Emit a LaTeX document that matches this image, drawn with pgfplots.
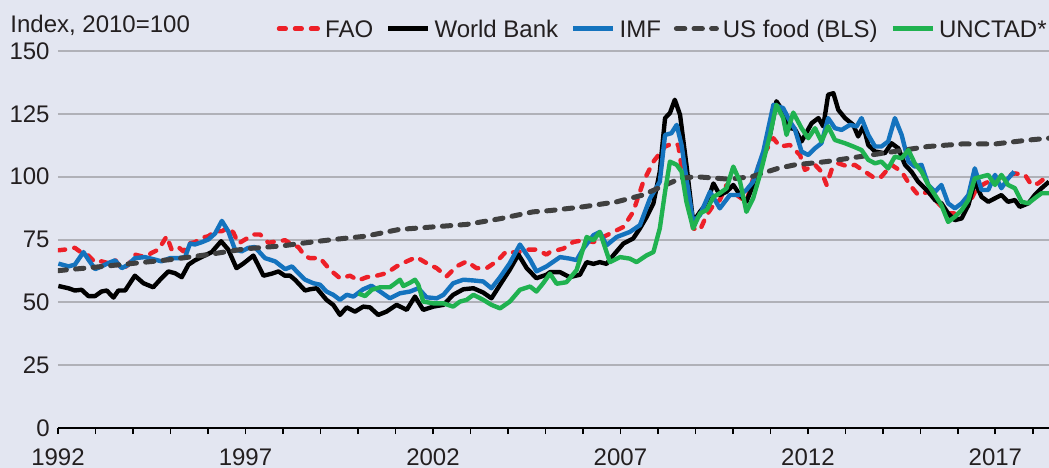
\documentclass[border=0pt]{standalone}
\usepackage{fontspec}
\setmainfont{Liberation Sans}
\usepackage{pgfplots}
\pgfplotsset{compat=1.18}
\usetikzlibrary{backgrounds}
\definecolor{bg}{RGB}{227,230,241}
\definecolor{gridc}{RGB}{176,177,184}
\definecolor{faored}{RGB}{237,32,40}
\definecolor{imfblue}{RGB}{20,115,190}
\definecolor{blsgray}{RGB}{64,64,64}
\definecolor{ungreen}{RGB}{32,178,80}
\definecolor{txt}{RGB}{35,31,32}
\begin{document}
\begin{tikzpicture}[font=\fontsize{12bp}{14bp}\selectfont]
\begin{axis}[name=ax, scale only axis, width=495.5bp, height=188.5bp,
  xmin=1992, xmax=2018.43, ymin=0, ymax=150,
  axis x line*=bottom, axis y line*=left,
  y axis line style={draw=none},
  x axis line style={draw=black, line width=1bp, -},
  xtick={1992,1997,...,2017}, minor xtick={1993,...,2018},
  xtick align=outside, major tick length=3bp, minor tick length=3bp,
  xtick style={black, line width=0.8bp},
  ytick={0,25,...,150}, ytick style={draw=none},
  ymajorgrids, grid style={gridc, line width=1bp},
  /pgf/number format/assume math mode=true,
  /pgf/number format/1000 sep={},
  xticklabel style={anchor=north, inner sep=0pt, yshift=-7.4bp, text=txt},
  yticklabel style={anchor=east, inner sep=0pt, xshift=-4bp, text=txt},
  every axis plot/.append style={line width=2.2bp, line join=round},
  legend columns=5,
  legend style={at={(axis description cs:1,1)}, anchor=east, xshift=-1bp, yshift=11.2bp,
    draw=none, fill=none, inner sep=0pt,
    nodes={inner sep=0pt, text height=8.6bp, text depth=0pt, text=txt},
    /tikz/every odd column/.append style={column sep=2bp},
    /tikz/every even column/.append style={column sep=6.5bp}},
  legend image code/.code={\draw[#1] (0bp,0bp) -- (20bp,0bp);},
]
% FAO
\addplot[faored, dash pattern=on 3.4bp off 4.6bp, line cap=round] coordinates {
(1992.01,70.7)(1992.19,71.0)(1992.45,71.7)(1992.63,69.7)(1992.81,68.6)(1992.99,65.9)
(1993.16,66.3)(1993.34,65.6)(1993.52,67.0)(1993.70,63.0)(1993.88,65.0)(1994.05,69.0)
(1994.32,68.0)(1994.50,69.7)(1994.68,71.0)(1994.90,76.3)(1995.03,71.0)(1995.21,72.0)
(1995.34,70.3)(1995.48,73.4)(1995.65,73.9)(1995.83,75.7)(1996.01,76.3)(1996.19,78.3)
(1996.37,78.3)(1996.54,79.7)(1996.68,77.7)(1996.81,73.4)(1996.99,75.0)(1997.21,77.0)
(1997.39,77.0)(1997.61,73.7)(1997.84,74.3)(1998.06,74.7)(1998.24,73.0)(1998.41,72.0)
(1998.59,68.3)(1998.72,67.6)(1998.99,67.6)(1999.25,63.0)(1999.52,59.6)(1999.79,60.6)
(2000.01,58.7)(2000.23,60.0)(2000.50,60.6)(2000.76,61.6)(2001.03,64.3)(2001.30,66.3)
(2001.56,68.0)(2001.83,65.6)(2002.10,63.6)(2002.36,60.3)(2002.63,64.3)(2002.90,66.3)
(2003.16,63.6)(2003.43,63.6)(2003.70,66.3)(2003.96,70.3)(2004.23,69.7)(2004.50,71.0)
(2004.76,71.0)(2005.03,69.0)(2005.12,70.0)(2005.48,71.4)(2005.74,74.0)(2006.01,74.7)
(2006.28,74.0)(2006.54,76.0)(2006.81,78.0)(2007.08,80.0)(2007.34,86.0)(2007.61,98.0)
(2007.88,106.0)(2008.19,112.0)(2008.41,113.3)(2008.54,112.6)(2008.68,99.3)(2008.94,79.4)
(2009.12,78.7)(2009.30,84.7)(2009.48,88.7)(2009.65,90.7)(2009.83,96.7)(2010.10,92.7)
(2010.36,90.0)(2010.54,99.3)(2010.81,108.6)(2011.08,115.3)(2011.25,112.0)(2011.52,112.6)
(2011.79,108.6)(2011.92,102.7)(2012.19,104.7)(2012.36,102.0)(2012.50,96.7)(2012.63,102.7)
(2012.81,105.3)(2013.08,104.0)(2013.25,104.7)(2013.52,102.0)(2013.79,99.3)(2013.96,100.0)
(2014.23,104.7)(2014.50,102.0)(2014.72,96.7)(2014.94,92.7)(2015.21,94.0)(2015.48,89.4)
(2015.74,85.4)(2016.01,85.4)(2016.28,88.7)(2016.50,95.4)(2016.72,97.3)(2016.99,99.3)
(2017.25,100.0)(2017.52,101.3)(2017.79,100.7)(2017.96,96.7)(2018.14,97.3)(2018.43,100.7)
};
\addlegendentry{FAO}
% World Bank
\addplot[black] coordinates {
(1992.01,56.5)(1992.28,55.6)(1992.45,54.7)(1992.63,55.0)(1992.81,52.5)(1992.99,52.5)
(1993.16,54.3)(1993.30,54.7)(1993.48,51.9)(1993.61,54.7)(1993.79,54.7)(1994.05,60.6)
(1994.28,57.6)(1994.54,56.0)(1994.76,59.6)(1994.94,62.3)(1995.12,61.6)(1995.30,60.0)
(1995.48,65.0)(1995.65,66.7)(1995.83,68.0)(1996.10,70.0)(1996.35,74.3)(1996.54,71.0)
(1996.76,63.6)(1996.94,65.4)(1997.21,68.6)(1997.48,60.6)(1997.70,61.4)(1997.88,62.3)
(1998.05,60.6)(1998.19,60.6)(1998.32,59.0)(1998.59,54.7)(1998.72,55.2)(1998.90,55.6)
(1999.16,51.0)(1999.34,49.0)(1999.52,45.0)(1999.70,48.0)(1999.92,46.3)(2000.14,48.3)
(2000.32,48.0)(2000.54,45.0)(2000.76,46.3)(2001.03,49.0)(2001.30,47.0)(2001.52,52.3)
(2001.74,47.0)(2002.01,48.3)(2002.28,49.0)(2002.54,53.0)(2002.81,55.2)(2003.08,55.6)
(2003.34,53.9)(2003.56,51.6)(2003.79,57.0)(2004.05,63.0)(2004.28,69.0)(2004.50,63.6)
(2004.76,59.6)(2005.03,61.0)(2005.12,62.0)(2005.39,62.0)(2005.65,60.0)(2005.92,61.0)
(2006.10,66.0)(2006.28,65.3)(2006.45,66.0)(2006.63,65.3)(2006.81,68.7)(2007.08,73.4)
(2007.34,75.4)(2007.52,79.4)(2007.70,84.0)(2007.88,89.4)(2008.05,102.0)(2008.19,123.3)
(2008.32,125.3)(2008.45,130.6)(2008.59,124.6)(2008.76,104.7)(2008.94,82.0)(2009.12,86.0)
(2009.30,89.4)(2009.48,97.3)(2009.65,92.7)(2009.83,94.0)(2010.01,96.7)(2010.19,92.7)
(2010.36,90.0)(2010.54,96.7)(2010.72,104.7)(2010.99,116.6)(2011.16,130.0)(2011.34,126.0)
(2011.52,119.3)(2011.65,119.0)(2011.83,114.0)(2012.10,121.3)(2012.28,123.3)(2012.41,120.0)
(2012.54,132.6)(2012.68,133.2)(2012.81,126.6)(2012.99,123.3)(2013.21,120.6)(2013.34,116.0)
(2013.48,120.0)(2013.61,112.6)(2013.79,110.0)(2014.05,109.3)(2014.23,113.3)(2014.41,111.3)
(2014.59,104.7)(2014.76,102.0)(2014.94,98.0)(2015.21,94.0)(2015.39,90.7)(2015.56,89.4)
(2015.74,85.4)(2015.92,82.7)(2016.10,83.4)(2016.28,88.7)(2016.45,98.0)(2016.63,92.0)
(2016.81,90.0)(2016.99,91.4)(2017.16,92.7)(2017.34,90.0)(2017.52,90.7)(2017.65,88.0)
(2017.88,89.4)(2018.05,92.7)(2018.23,95.4)(2018.43,98.0)
};
\addlegendentry{World Bank}
% IMF
\addplot[imfblue] coordinates {
(1992.01,65.4)(1992.28,64.3)(1992.45,65.0)(1992.68,70.0)(1992.81,67.0)(1992.99,63.2)
(1993.16,64.3)(1993.34,65.6)(1993.52,66.7)(1993.70,63.6)(1993.88,65.0)(1994.05,67.6)
(1994.32,68.0)(1994.59,67.0)(1994.76,66.3)(1994.99,67.6)(1995.21,67.6)(1995.39,68.0)
(1995.52,73.4)(1995.65,73.0)(1995.83,73.9)(1996.01,75.0)(1996.19,77.4)(1996.37,82.4)
(1996.54,78.3)(1996.72,71.0)(1996.90,70.3)(1997.08,71.7)(1997.25,72.0)(1997.52,67.6)
(1997.79,66.3)(1998.06,63.2)(1998.24,64.3)(1998.41,61.6)(1998.59,59.0)(1998.81,57.6)
(1998.99,57.0)(1999.16,54.3)(1999.34,53.0)(1999.52,51.0)(1999.70,53.0)(1999.88,52.3)
(2000.14,55.2)(2000.36,56.6)(2000.59,54.3)(2000.85,51.6)(2001.12,53.6)(2001.39,54.3)
(2001.61,55.6)(2001.83,52.0)(2002.10,51.6)(2002.28,53.0)(2002.54,57.6)(2002.81,59.0)
(2003.08,58.7)(2003.34,58.3)(2003.56,55.6)(2003.79,60.0)(2004.05,65.6)(2004.32,73.0)
(2004.59,67.0)(2004.76,62.3)(2005.03,64.3)(2005.39,68.0)(2005.65,67.4)(2005.83,66.8)
(2006.01,71.4)(2006.28,76.7)(2006.45,78.0)(2006.63,72.7)(2006.90,76.0)(2007.25,78.0)
(2007.52,80.7)(2007.79,91.4)(2008.05,98.0)(2008.19,116.6)(2008.36,117.3)(2008.50,120.6)
(2008.63,112.6)(2008.76,99.3)(2008.94,82.0)(2009.12,84.7)(2009.39,94.0)(2009.65,87.4)
(2009.92,92.7)(2010.19,92.7)(2010.36,94.7)(2010.54,98.0)(2010.81,110.0)(2011.08,128.6)
(2011.34,127.3)(2011.52,122.0)(2011.65,119.0)(2011.83,110.0)(2012.01,108.6)(2012.19,111.3)
(2012.36,113.3)(2012.54,123.3)(2012.72,119.3)(2012.90,118.6)(2013.12,120.6)(2013.30,120.0)
(2013.43,123.3)(2013.61,116.6)(2013.79,112.0)(2013.96,112.0)(2014.14,114.0)(2014.32,123.3)
(2014.50,116.6)(2014.68,106.0)(2014.85,104.0)(2015.03,104.7)(2015.21,96.7)(2015.39,94.0)
(2015.56,96.7)(2015.74,89.4)(2015.92,87.4)(2016.10,89.4)(2016.28,92.7)(2016.45,103.3)
(2016.63,94.7)(2016.81,94.7)(2016.99,100.7)(2017.16,95.4)(2017.34,99.3)(2017.50,102.0)
};
\addlegendentry{IMF}
% US food (BLS)
\addplot[blsgray, line width=2.5bp, dash pattern=on 4.2bp off 4.6bp, line cap=round] coordinates {
(1992.0,62.6)(1993.0,64.0)(1994.0,65.5)(1995.0,67.0)(1996.0,69.0)(1997.0,71.3)
(1998.0,72.5)(1998.45,73.4)(1999.34,75.0)(2000.2,76.3)(2001.1,79.0)(2002.0,80.0)
(2002.9,81.0)(2003.8,83.3)(2004.67,86.0)(2005.12,86.5)(2006.0,88.0)(2006.9,90.0)
(2007.6,92.7)(2008.2,96.7)(2008.6,99.3)(2009.0,100.0)(2009.9,99.0)(2010.5,100.0)
(2011.2,103.3)(2011.65,104.7)(2012.5,106.0)(2013.4,108.0)(2014.3,110.0)(2015.2,112.0)
(2016.1,113.0)(2016.99,113.0)(2017.9,114.6)(2018.43,115.3)
};
\addlegendentry{US food (BLS)}
% UNCTAD
\addplot[ungreen] coordinates {
(2000.01,53.5)(2000.19,52.5)(2000.37,55.0)(2000.59,56.0)(2000.85,56.0)(2000.99,57.5)
(2001.12,59.0)(2001.21,56.5)(2001.39,57.8)(2001.52,59.0)(2001.61,57.0)(2001.74,50.3)
(2002.01,49.6)(2002.28,49.6)(2002.54,48.3)(2002.72,50.3)(2002.90,51.0)(2003.08,53.0)
(2003.34,51.0)(2003.56,49.0)(2003.79,47.6)(2004.05,50.3)(2004.32,55.0)(2004.59,56.3)
(2004.76,54.3)(2004.94,57.6)(2005.12,61.4)(2005.30,57.4)(2005.56,58.0)(2005.83,62.8)
(2006.10,76.0)(2006.28,74.7)(2006.45,78.0)(2006.72,66.0)(2006.99,68.0)(2007.25,67.4)
(2007.43,66.0)(2007.70,68.7)(2007.88,70.0)(2008.05,79.4)(2008.19,94.0)(2008.32,106.0)
(2008.50,104.7)(2008.63,102.0)(2008.76,90.0)(2008.94,79.4)(2009.12,85.4)(2009.30,86.7)
(2009.48,92.0)(2009.65,93.4)(2009.83,95.4)(2010.01,104.0)(2010.19,98.0)(2010.36,86.0)
(2010.54,91.4)(2010.72,100.7)(2010.99,116.6)(2011.16,128.6)(2011.34,123.3)(2011.43,116.6)
(2011.61,125.5)(2011.83,119.3)(2012.01,115.3)(2012.19,119.3)(2012.36,114.0)(2012.54,120.0)
(2012.72,114.6)(2012.99,113.3)(2013.21,112.0)(2013.43,110.6)(2013.61,106.7)(2013.79,105.3)
(2013.96,106.0)(2014.14,103.3)(2014.32,108.0)(2014.50,107.3)(2014.68,110.6)(2014.85,105.3)
(2015.03,102.0)(2015.21,96.7)(2015.39,92.7)(2015.56,88.7)(2015.74,82.0)(2015.92,84.0)
(2016.10,86.7)(2016.28,90.7)(2016.45,99.3)(2016.63,100.0)(2016.81,100.7)(2016.99,96.7)
(2017.16,100.7)(2017.34,96.7)(2017.52,95.4)(2017.70,90.0)(2017.88,89.4)(2018.05,91.4)
(2018.23,93.4)(2018.43,93.4)
};
\addlegendentry{UNCTAD*}
\end{axis}
\node[anchor=base west, inner sep=0pt, text=txt] at ([xshift=-24bp, yshift=9.35bp]ax.north west) {Index, 2010=100};
\begin{scope}[on background layer]
\fill[bg] ([xshift=-29bp,yshift=-20bp]ax.south west) rectangle ([yshift=25.5bp]ax.north east);
\end{scope}
\pgfresetboundingbox
\path[use as bounding box] ([xshift=-29bp,yshift=-20bp]ax.south west) rectangle ([yshift=25.5bp]ax.north east);
\end{tikzpicture}
\end{document}
